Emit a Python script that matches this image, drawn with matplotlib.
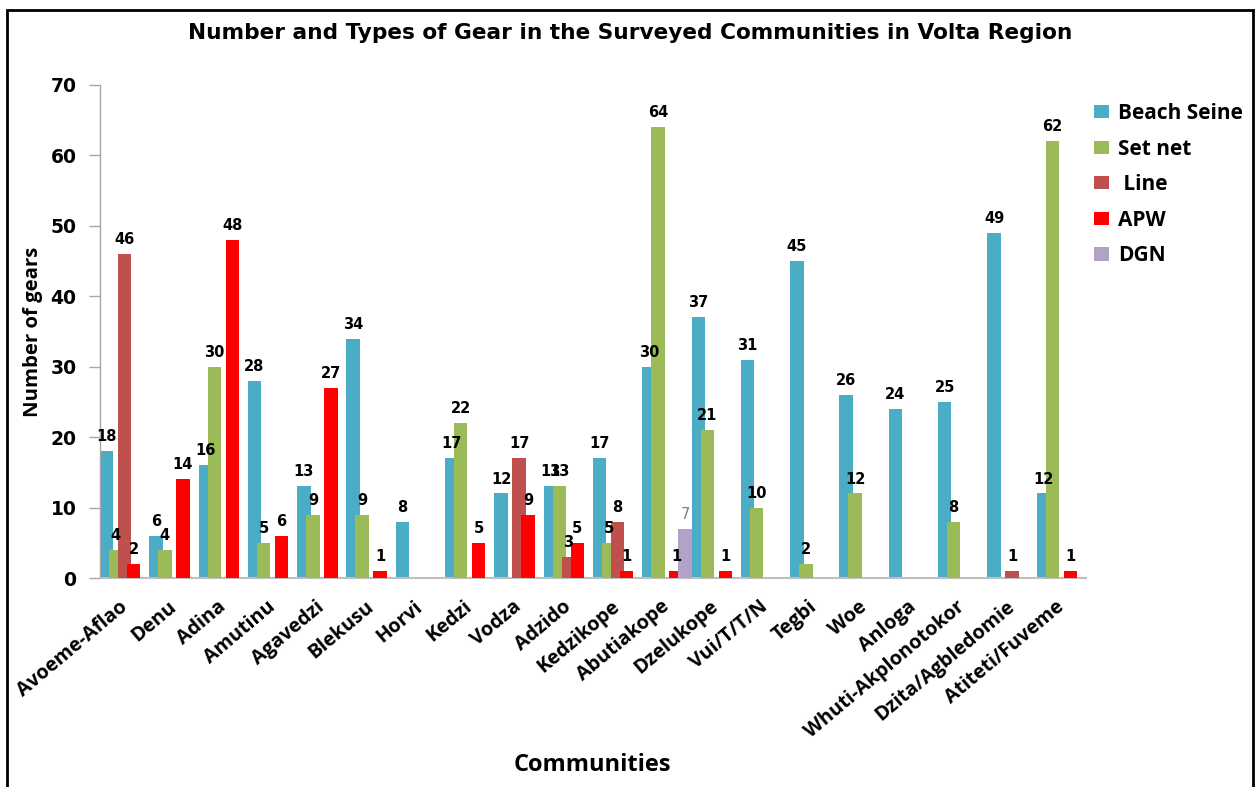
import matplotlib
matplotlib.use("Agg")
import matplotlib.pyplot as plt
from matplotlib.patches import Rectangle
import numpy as np

communities = ["Avoeme-Aflao", "Denu", "Adina", "Amutinu", "Agavedzi", "Blekusu",
               "Horvi", "Kedzi", "Vodza", "Adzido", "Kedzikope", "Abutiakope",
               "Dzelukope", "Vui/T/T/N", "Tegbi", "Woe", "Anloga",
               "Whuti-Akplonotokor", "Dzita/Agbledomie", "Atiteti/Fuveme"]
beach_seine = [18, 6, 16, 28, 13, 34, 8, 17, 12, 13, 17, 30, 37, 31, 45, 26, 24, 25, 49, 12]
set_net     = [4, 4, 30, 5, 9, 9, 0, 22, 0, 13, 5, 64, 21, 10, 2, 12, 0, 8, 0, 62]
line        = [46, 0, 0, 0, 0, 0, 0, 0, 17, 3, 8, 0, 0, 0, 0, 0, 0, 0, 1, 0]
apw         = [2, 14, 48, 6, 27, 1, 0, 5, 9, 5, 1, 1, 1, 0, 0, 0, 0, 0, 0, 1]
dgn         = [0, 0, 0, 0, 0, 0, 0, 0, 0, 0, 0, 7, 0, 0, 0, 0, 0, 0, 0, 0]

series_names = ["Beach Seine", "Set net", " Line", "APW", "DGN"]
series_vals = [beach_seine, set_net, line, apw, dgn]
colors = ["#4BACC6", "#9BBB59", "#C0504D", "#FF0000", "#B3A2C7"]

W, H = 1257, 787
fig = plt.figure(figsize=(W / 100, H / 100), dpi=100)
ax = fig.add_axes([100 / W, (H - 578) / H, 986 / W, (578 - 85) / H])

x = np.arange(len(communities))
step = 0.183
width = 0.272
for i, (name, vals, c) in enumerate(zip(series_names, series_vals, colors)):
    vals = np.array(vals, dtype=float)
    mask = vals > 0
    pos = x + (i - 2) * step
    ax.bar(pos[mask], vals[mask], width=width, color=c, label=name,
           edgecolor="none", zorder=2 + i)
    for px, v in zip(pos[mask], vals[mask]):
        if name == "DGN":
            ax.annotate(f"{int(v)}", (px, v), xytext=(0, 5), textcoords="offset points",
                        ha="center", va="bottom", fontsize=10.5, color="#7F7F7F",
                        family="DejaVu Sans", zorder=10)
        else:
            ax.annotate(f"{int(v)}", (px, v), xytext=(0, 5), textcoords="offset points",
                        ha="center", va="bottom", fontsize=10.5, fontweight="bold",
                        color="black", family="DejaVu Sans", zorder=10)

ax.set_xlim(-0.5, len(communities) - 0.5)
ax.set_ylim(0, 70)
ax.set_yticks(np.arange(0, 71, 10))
ax.tick_params(axis="y", direction="out", length=8, width=1, color="#A6A6A6",
               labelsize=13.5, pad=9)
for lab in ax.get_yticklabels():
    lab.set_fontweight("bold")
    lab.set_family("DejaVu Sans")
ax.set_xticks(x)
ax.set_xticklabels(communities, rotation=40, ha="right", va="center",
                   rotation_mode="anchor", fontsize=14.2, fontweight="bold",
                   family="Open Sans")
ax.tick_params(axis="x", length=0, pad=19)

for s in ["top", "right"]:
    ax.spines[s].set_visible(False)
ax.spines["left"].set_color("#A6A6A6")
ax.spines["left"].set_linewidth(1)
ax.spines["bottom"].set_color("#BFBFBF")
ax.spines["bottom"].set_linewidth(1.5)

fig.text(592 / W, 1 - 765 / H, "Communities", ha="center", va="center",
         fontsize=17, fontweight="bold", family="Open Sans")
fig.text(33 / W, 1 - 332 / H, "Number of gears", ha="center", va="center",
         rotation=90, fontsize=14.7, fontweight="bold", family="Open Sans")
fig.text(630 / W, 1 - 33 / H,
         "Number and Types of Gear in the Surveyed Communities in Volta Region",
         ha="center", va="center", fontsize=15.6, fontweight="bold", family="DejaVu Sans")

leg = fig.legend(loc="upper left", bbox_to_anchor=(1094 / W, 1 - 103 / H),
                 frameon=False, prop={"family": "Open Sans", "weight": "bold", "size": 15},
                 handlelength=0.7, handleheight=0.6, handletextpad=0.45,
                 labelspacing=0.7, borderaxespad=0, borderpad=0)

fig.patches.append(Rectangle((7 / W, -0.2), (1253 - 7) / W, 1.2 - 10 / H,
                             transform=fig.transFigure, fill=False,
                             edgecolor="black", linewidth=2))

fig.savefig("out.png", dpi=100)
